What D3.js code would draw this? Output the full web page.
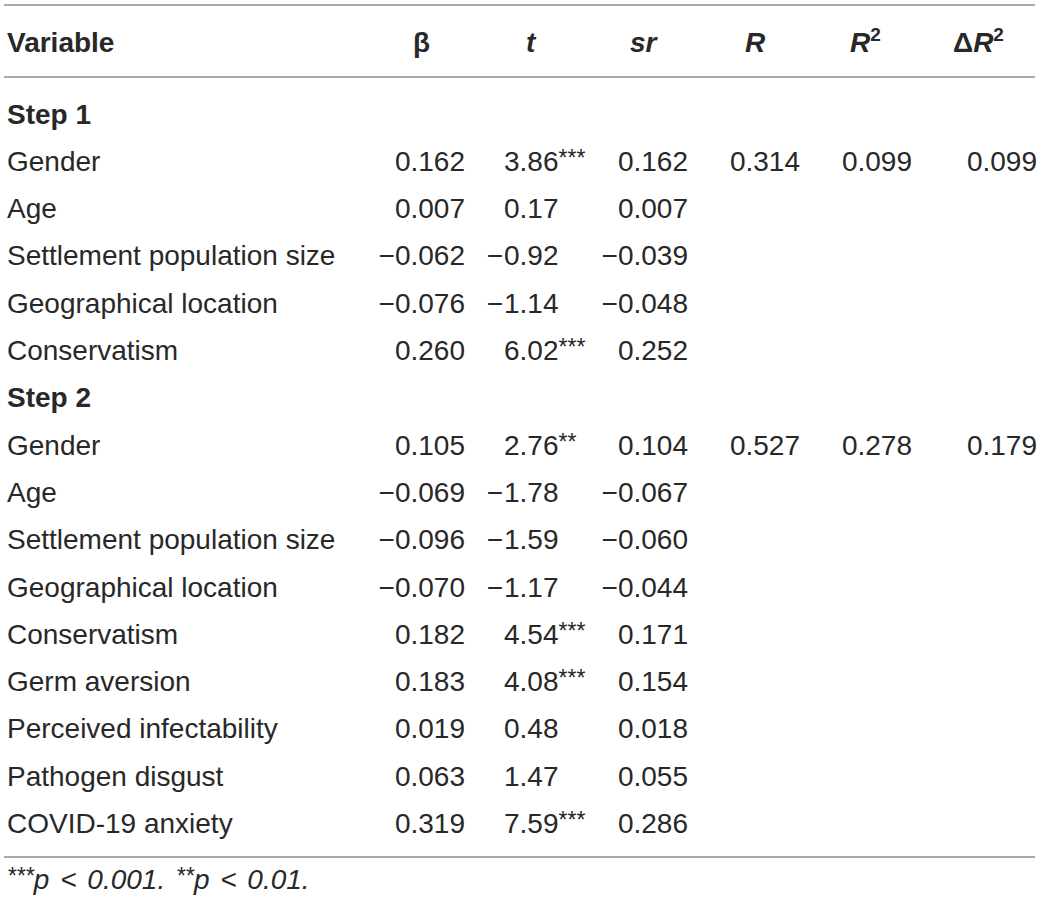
<!doctype html>
<html lang="en">
<head>
  <meta charset="utf-8" />
  <title>Hierarchical regression</title>
  <script src="https://d3js.org/d3.v7.min.js"></script>
  <style>
    body { margin: 0; background: #fff; }
    text { font-family: "Liberation Sans", Arial, sans-serif; fill: #282828; }
  </style>
</head>
<body>
  <div id="my_table"></div>
  <script>
    // table values
    const headers = ["β", "t", "sr", "R", "R2", "ΔR2"];
    const steps = ["Step 1", "Step 2"];
    const vars1 = ["Gender", "Age", "Settlement population size", "Geographical location", "Conservatism"];
    const vars2 = ["Gender", "Age", "Settlement population size", "Geographical location", "Conservatism",
      "Germ aversion", "Perceived infectability", "Pathogen disgust", "COVID-19 anxiety"];
    const beta1 = [0.162, 0.007, -0.062, -0.076, 0.260];
    const t1 = [3.86, 0.17, -0.92, -1.14, 6.02];
    const sig1 = ["***", "", "", "", "***"];
    const sr1 = [0.162, 0.007, -0.039, -0.048, 0.252];
    const beta2 = [0.105, -0.069, -0.096, -0.070, 0.182, 0.183, 0.019, 0.063, 0.319];
    const t2 = [2.76, -1.78, -1.59, -1.17, 4.54, 4.08, 0.48, 1.47, 7.59];
    const sig2 = ["**", "", "", "", "***", "***", "", "", "***"];
    const sr2 = [0.104, -0.067, -0.060, -0.044, 0.171, 0.154, 0.018, 0.055, 0.286];
    const modelR = [0.314, 0.527];
    const modelR2 = [0.099, 0.278];
    const modelDR2 = [0.099, 0.179];

    const width = 1041, height = 906;
    const fs = 28;

    const svg = d3.select("#my_table")
      .append("svg")
      .attr("width", width)
      .attr("height", height);

    // build the rows (step header rows + variable rows)
    const rows = [];
    [[vars1, beta1, t1, sig1, sr1], [vars2, beta2, t2, sig2, sr2]].forEach(function (s, k) {
      rows.push({ label: steps[k], step: true });
      s[0].forEach(function (v, i) {
        rows.push({
          label: v, beta: s[1][i], t: s[2][i], sig: s[3][i], sr: s[4][i],
          R: i == 0 ? modelR[k] : null, R2: i == 0 ? modelR2[k] : null, dR2: i == 0 ? modelDR2[k] : null
        });
      });
    });

    // baseline of each row
    const y = d3.scaleLinear().domain([0, 1]).range([123.5, 170.8]);
    const f3 = d3.format(".3f"), f2 = d3.format(".2f");

    // rules
    const rules = [5, 77, 857];
    svg.selectAll("line.rule").data(rules).join("line")
      .attr("class", "rule")
      .attr("x1", 4).attr("x2", 1035)
      .attr("y1", d => d).attr("y2", d => d)
      .attr("stroke", "#aaaaaa").attr("stroke-width", 2);

    // header
    const hdr = svg.append("g").style("font-weight", "bold").style("font-size", fs + "px");
    hdr.append("text").attr("x", 7).attr("y", 52).text("Variable");
    const hx = [413, 526, 630, 745, 850, 953];
    headers.forEach(function (h, i) {
      const t = hdr.append("text").attr("x", hx[i]).attr("y", 52);
      if (h == "β") { t.text("β"); return; }
      if (h.startsWith("Δ")) { t.append("tspan").text("Δ"); h = h.slice(1); }
      if (h.endsWith("2")) {
        t.append("tspan").style("font-style", "italic").text(h.slice(0, -1));
        t.append("tspan").attr("dy", -11).style("font-size", "19px").text("2");
      } else {
        t.append("tspan").style("font-style", "italic").text(h);
      }
    });

    const g = svg.append("g").style("font-size", fs + "px");

    g.selectAll("text.lab").data(rows).join("text")
      .attr("class", "lab")
      .attr("x", 7)
      .attr("y", (d, i) => y(i))
      .style("font-weight", d => d.step ? "bold" : null)
      .text(d => d.label);

    const vrows = rows.map((d, i) => Object.assign({ i: i }, d)).filter(d => !d.step);

    // right aligned numeric columns
    const cols = [["beta", 465], ["sr", 688], ["R", 800], ["R2", 912], ["dR2", 1037]];
    cols.forEach(function (c) {
      g.selectAll("text.c-" + c[0]).data(vrows.filter(d => d[c[0]] != null)).join("text")
        .attr("class", "c-" + c[0])
        .attr("x", c[1])
        .attr("y", d => y(d.i))
        .attr("text-anchor", "end")
        .text(d => f3(d[c[0]]));
    });

    // t column: integer part lined up, sign hanging left, stars as superscript
    const tx = 504;
    g.selectAll("text.tsign").data(vrows.filter(d => d.t < 0)).join("text")
      .attr("class", "tsign")
      .attr("x", tx - 1)
      .attr("y", d => y(d.i))
      .attr("text-anchor", "end")
      .text("−");
    const tt = g.selectAll("text.tval").data(vrows).join("text")
      .attr("class", "tval")
      .attr("x", tx)
      .attr("y", d => y(d.i));
    tt.append("tspan").text(d => f2(Math.abs(d.t)));
    tt.append("tspan").attr("dy", -5).style("font-size", "23px").text(d => d.sig);

    // footnote
    const fn = svg.append("text").attr("x", 7).attr("y", 889)
      .style("font-size", "28px").style("font-style", "italic").style("word-spacing", "3px");
    fn.append("tspan").attr("dy", -5).style("font-size", "23px").text("***");
    fn.append("tspan").attr("dy", 5).text("p < 0.001. ");
    fn.append("tspan").attr("dy", -5).style("font-size", "23px").text("**");
    fn.append("tspan").attr("dy", 5).text("p < 0.01.");
  </script>
</body>
</html>
